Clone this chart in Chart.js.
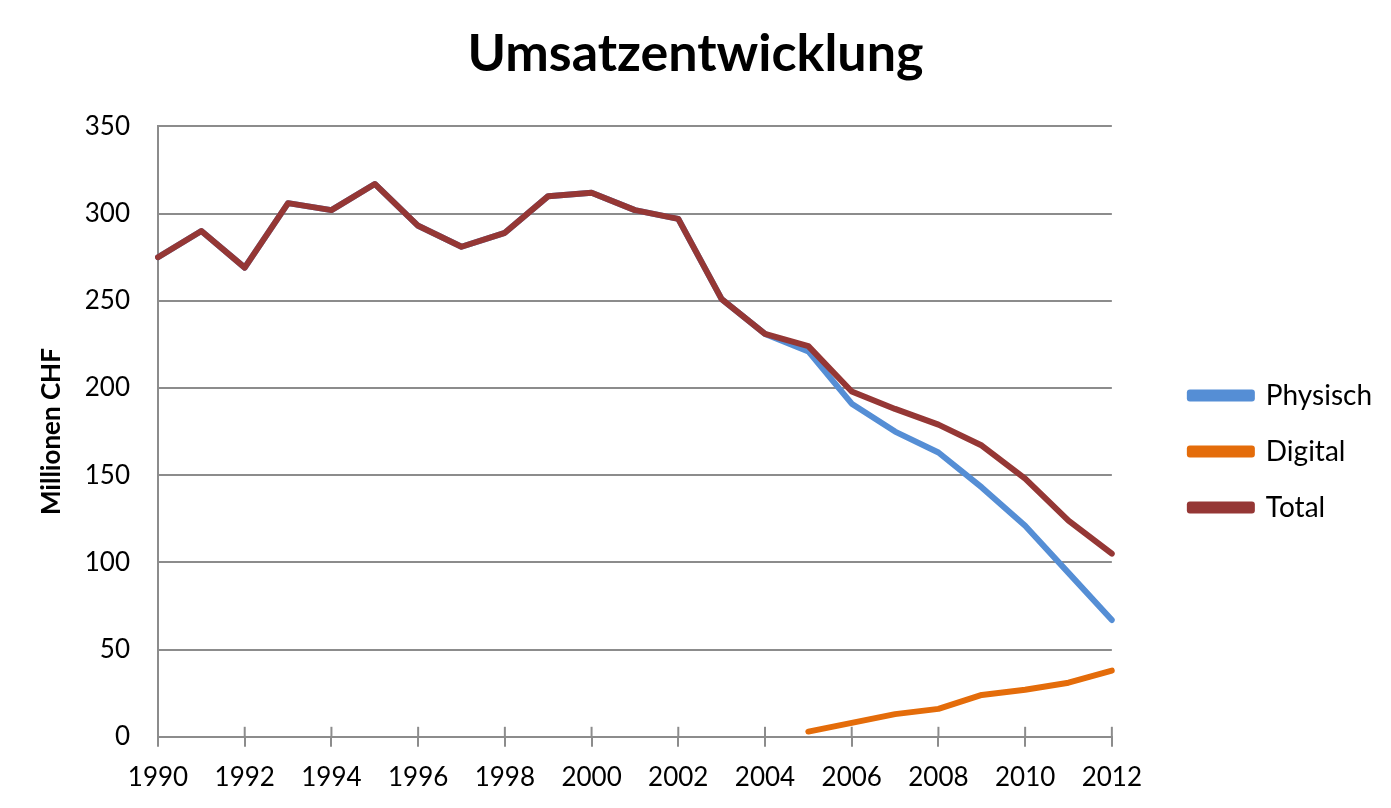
<!DOCTYPE html>
<html>
<head>
<meta charset="utf-8">
<script src="https://cdn.jsdelivr.net/npm/chart.js@4.4.1/dist/chart.umd.min.js"></script>
<style>
  html, body { margin: 0; padding: 0; background: #fff; }
  #wrap { width: 1391px; height: 808px; }
</style>
</head>
<body>
<div id="wrap"><canvas id="umsatzChart"></canvas></div>
<script>
// Jahre und Umsatz in Millionen CHF
var years = ["1990", "1991", "1992", "1993", "1994", "1995", "1996", "1997", "1998", "1999", "2000",
             "2001", "2002", "2003", "2004", "2005", "2006", "2007", "2008", "2009", "2010", "2011", "2012"];
var physisch = [275, 290, 269, 306, 302, 317, 293, 281, 289, 310, 312,
                302, 297, 251, 231, 221, 191, 175, 163, 143, 121, 94, 67];
var digital = [null, null, null, null, null, null, null, null, null, null, null,
               null, null, null, null, 3, 8, 13, 16, 24, 27, 31, 38];
var total = [275, 290, 269, 306, 302, 317, 293, 281, 289, 310, 312,
             302, 297, 251, 231, 224, 198, 188, 179, 167, 148, 124, 105];
var yTicks = [0, 50, 100, 150, 200, 250, 300, 350];

var axisGray = '#8c8c8c';
var fontFamily = 'Lato, "Open Sans", sans-serif';

// kleine Striche, die die x-Achse nach oben kreuzen
var crossTicks = {
    id: 'crossTicks',
    afterDatasetsDraw: function (chart) {
        var xs = chart.scales.x;
        var c = chart.ctx;
        c.save();
        c.strokeStyle = axisGray;
        c.lineWidth = 2;
        for (var i = 0; i < years.length; i += 2) {
            var px = xs.getPixelForTick(i);
            c.beginPath();
            c.moveTo(px, xs.top - 10);
            c.lineTo(px, xs.top);
            c.stroke();
        }
        c.restore();
    }
};

// leerer Abstand zwischen Diagramm und Legende, Titel über die ganze Breite zentriert
var legendGap = {
    id: 'legendGap',
    beforeInit: function (chart) {
        Chart.layouts.addBox(chart, {
            position: 'right',
            weight: 500,
            fullSize: false,
            options: {},
            isHorizontal: function () { return false; },
            update: function (maxW, maxH) { this.width = 50; this.height = maxH; },
            draw: function () {}
        });
    },
    afterLayout: function (chart) {
        if (chart.titleBlock) {
            chart.titleBlock.left = 0;
            chart.titleBlock.right = chart.width;
        }
    }
};

function lineSet(label, data, color, order) {
    return {
        label: label,
        data: data,
        borderColor: color,
        backgroundColor: color,
        borderWidth: 6,
        pointRadius: 0,
        pointHoverRadius: 0,
        tension: 0,
        fill: false,
        borderCapStyle: 'round',
        borderJoinStyle: 'round',
        order: order
    };
}

function createChart() {
    var ctx = document.getElementById('umsatzChart').getContext('2d');

    new Chart(ctx, {
        type: 'line',
        data: {
            labels: years,
            datasets: [
                lineSet('Physisch', physisch, '#558ed5', 2),
                lineSet('Digital', digital, '#e46c0a', 1),
                lineSet('Total', total, '#953735', 0)
            ]
        },
        options: {
            responsive: true,
            maintainAspectRatio: false,
            animation: false,
            layout: { padding: { top: 23, left: 36, right: 9, bottom: 0 } },
            plugins: {
                title: {
                    display: true,
                    text: 'Umsatzentwicklung',
                    color: '#000',
                    font: { family: fontFamily, size: 52, weight: 'bold' },
                    padding: { top: 0, bottom: 41 }
                },
                legend: {
                    position: 'right',
                    title: {
                        display: true,
                        text: ' ',
                        font: { size: 10 },
                        padding: { top: 30, bottom: 30 }
                    },
                    labels: {
                        color: '#000',
                        font: { family: fontFamily, size: 28 },
                        boxWidth: 62,
                        boxHeight: 6,
                        padding: 28,
                        sort: function (a, b) { return a.datasetIndex - b.datasetIndex; }
                    }
                },
                tooltip: { enabled: false }
            },
            scales: {
                x: {
                    offset: false,
                    border: { display: true, color: axisGray, width: 2 },
                    grid: {
                        drawOnChartArea: false,
                        drawTicks: true,
                        tickLength: 10,
                        lineWidth: 2,
                        color: function (c) { return c.index % 2 === 0 ? axisGray : 'rgba(0,0,0,0)'; }
                    },
                    ticks: {
                        autoSkip: false,
                        maxRotation: 0,
                        color: '#000',
                        padding: 15,
                        font: { family: fontFamily, size: 26 },
                        callback: function (v, i) { return i % 2 === 0 ? years[i] : ''; }
                    }
                },
                y: {
                    min: 0,
                    max: 350,
                    afterBuildTicks: function (s) {
                        s.ticks = yTicks.map(function (v) { return { value: v }; });
                    },
                    afterFit: function (s) { s.width = 122; },
                    border: { display: true, color: axisGray, width: 2 },
                    grid: { color: axisGray, lineWidth: 2, drawTicks: false },
                    ticks: {
                        color: '#000',
                        padding: 28,
                        font: { family: fontFamily, size: 26 }
                    },
                    title: {
                        display: true,
                        text: 'Millionen CHF',
                        color: '#000',
                        font: { family: fontFamily, size: 26, weight: 'bold' },
                        padding: 0
                    }
                }
            }
        },
        plugins: [crossTicks, legendGap]
    });
}

createChart();
</script>
</body>
</html>
